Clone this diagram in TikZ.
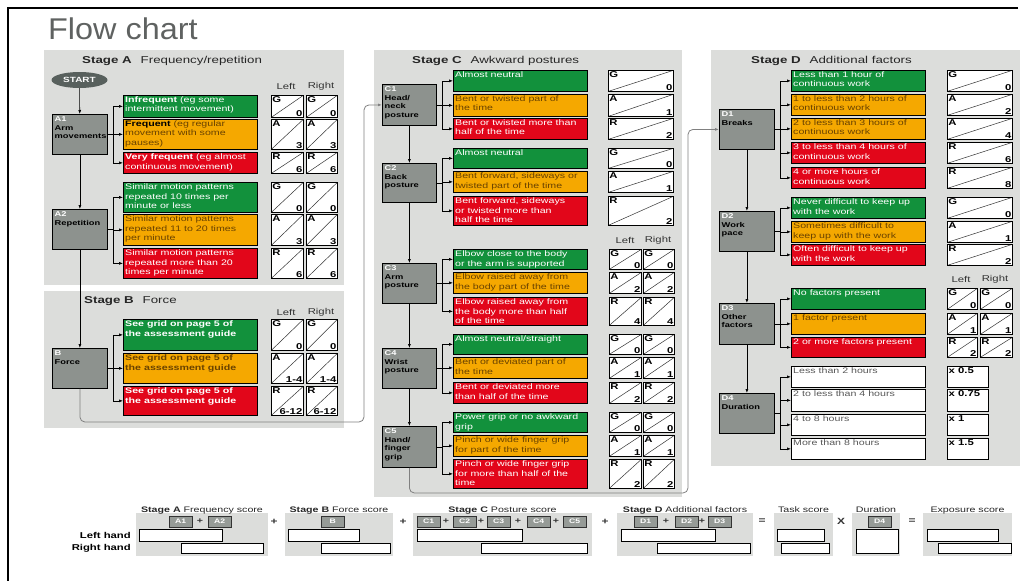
\documentclass[tikz,border=0pt]{standalone}
\usepackage{fontspec}
\setmainfont{Liberation Sans}[FakeStretch=1.33]
\newfontfamily\titlefont{Liberation Sans}[FakeStretch=1.08]
\usetikzlibrary{arrows.meta,shapes.geometric}

\definecolor{panelgrey}{RGB}{220,221,219}
\definecolor{stepgrey}{RGB}{141,146,142}
\definecolor{startgrey}{RGB}{88,96,93}
\definecolor{taggrey}{RGB}{150,155,151}
\definecolor{optgreen}{RGB}{18,145,60}
\definecolor{optamber}{RGB}{245,168,0}
\definecolor{optred}{RGB}{226,6,26}
\definecolor{ambertext}{RGB}{105,66,0}
\definecolor{titlegrey}{RGB}{95,98,97}

\begin{document}
\begin{tikzpicture}[x=1pt, y=-1pt, font=\fontsize{8}{9.5}\selectfont,
  arr/.style={-{Latex[length=4pt,width=3pt]}, line width=0.6pt},
  link/.style={arr, draw=black!50, line width=0.8pt, rounded corners=5pt},
  stepbox/.style={draw=black, line width=0.8pt, fill=stepgrey, anchor=north west, inner sep=0pt,
    minimum width=55, minimum height=40,
    label={[anchor=north west, align=left, inner sep=2.5pt, font=\fontsize{7}{8.5}\selectfont\bfseries]north west:#1}},
  optbox/.style={draw=black, line width=0.7pt, anchor=north west, inner sep=0pt, minimum width=134},
  opttext/.style={anchor=north west, align=left, inner xsep=2pt, inner ysep=1.5pt},
  gopt/.style={optbox, fill=optgreen, label={[opttext, text=white]north west:#1}},
  aopt/.style={optbox, fill=optamber, label={[opttext, text=ambertext]north west:#1}},
  ropt/.style={optbox, fill=optred, label={[opttext, text=white]north west:#1}},
  wopt/.style={optbox, fill=white, label={[opttext, text=black!65]north west:#1}},
  score/.style 2 args={draw=black, line width=0.7pt, fill=white, anchor=north west, inner sep=0pt,
    path picture={\draw[line width=0.5pt, black!80] (path picture bounding box.south west) -- (path picture bounding box.north east);},
    label={[anchor=north west, inner sep=1.2pt, font=\fontsize{8.5}{9}\selectfont\bfseries]north west:#1},
    label={[anchor=south east, inner sep=1.2pt, font=\fontsize{8.5}{9}\selectfont\bfseries]south east:#2}},
  mult/.style={draw=black, line width=0.7pt, fill=white, anchor=north west, inner sep=0pt, minimum width=41,
    label={[anchor=north west, inner sep=1.5pt, font=\fontsize{8.5}{9}\selectfont\bfseries]north west:#1}},
  lr/.style={text=black!80, font=\fontsize{8.5}{9}\selectfont},
  head/.style={anchor=west, inner sep=0pt, text=black!85, font=\fontsize{10}{11}\selectfont},
  tag/.style={draw=black!80, fill=taggrey, text=white, anchor=north west, inner sep=0pt,
    minimum width=23, minimum height=11, font=\fontsize{6.5}{7}\selectfont\bfseries},
  slot/.style={draw=black, line width=0.7pt, fill=white, anchor=north west, inner sep=0pt}
]
\useasboundingbox (0,0) rectangle (1022,581);

% Frame and title
\draw[line width=1.5pt] (1018,8) -- (8,8) -- (8,581);
\node[anchor=base west, inner sep=0pt, text=titlegrey, font=\titlefont\fontsize{30}{30}\selectfont] (title) at (48,39) {Flow chart};

% Panels
\fill[panelgrey] (44,50) rectangle (344,285);
\fill[panelgrey] (44,291) rectangle (344,428);
\fill[panelgrey] (374,50) rectangle (682,497);
\fill[panelgrey] (711,50) rectangle (1020,466);
\node[head] (ha) at (82,61) {\textbf{Stage A}\hspace{9pt}Frequency/repetition};
\node[head] (hb) at (84,301) {\textbf{Stage B}\hspace{9pt}Force};
\node[head] (hc) at (412,61) {\textbf{Stage C}\hspace{9pt}Awkward postures};
\node[head] (hd) at (751,61) {\textbf{Stage D}\hspace{9pt}Additional factors};

% Stage A
\node[ellipse, fill=startgrey, text=white, inner sep=0pt, minimum width=56, minimum height=16,
  font=\fontsize{7.5}{8}\selectfont\bfseries] (start) at (79.5,80) {START};
\node[stepbox={{\color{white}A1}\\Arm\\movements}] (a1) at (52,114) {};
\node[stepbox={{\color{white}A2}\\Repetition}] (a2) at (52,209) {};
\node[gopt={\textbf{Infrequent} (eg some\\intermittent movement)}, minimum height=22] (a1-1) at (123,95) {};
\node[aopt={\textcolor{black}{\textbf{Frequent}} (eg regular\\movement with some\\pauses)}, minimum height=30] (a1-2) at (123,119) {};
\node[ropt={\textbf{Very frequent} (eg almost\\continuous movement)}, minimum height=21] (a1-3) at (123,152) {};
\node[gopt={Similar motion patterns\\repeated 10 times per\\minute or less}, minimum height=30] (a2-1) at (123,182) {};
\node[aopt={Similar motion patterns\\repeated 11 to 20 times\\per minute}, minimum height=31] (a2-2) at (123,214) {};
\node[ropt={Similar motion patterns\\repeated more than 20\\times per minute}, minimum height=30] (a2-3) at (123,248) {};
\node[lr] (al) at (286,86) {Left};
\node[lr] (ar) at (321,86) {Right};
\foreach \y/\h/\g/\v [count=\i] in {95/22/G/0,119/30/A/3,152/21/R/6,182/30/G/0,214/31/A/3,248/30/R/6} {
  \node[score={\g}{\v}, minimum width=32, minimum height=\h] (sal\i) at (271,\y) {};
  \node[score={\g}{\v}, minimum width=31, minimum height=\h] (sar\i) at (306,\y) {};
}

% Stage B
\node[stepbox={{\color{white}B}\\Force}] (b) at (52,348) {};
\node[gopt={\textbf{See grid on page 5 of}\\\textbf{the assessment guide}}, minimum height=31] (b-1) at (123,319) {};
\node[aopt={\textbf{See grid on page 5 of}\\\textbf{the assessment guide}}, minimum height=30] (b-2) at (123,353) {};
\node[ropt={\textbf{See grid on page 5 of}\\\textbf{the assessment guide}}, minimum height=29] (b-3) at (123,386) {};
\node[lr] (bl) at (286,312) {Left};
\node[lr] (br) at (321,312) {Right};
\foreach \y/\h/\g/\v [count=\i] in {319/31/G/0,353/30/A/1-4,386/29/R/6-12} {
  \node[score={\g}{\v}, minimum width=32, minimum height=\h] (sbl\i) at (271,\y) {};
  \node[score={\g}{\v}, minimum width=31, minimum height=\h] (sbr\i) at (306,\y) {};
}

% Stage C
\node[stepbox={{\color{white}C1}\\Head/\\neck\\posture}, minimum width=54, minimum height=41] (c1) at (382,84) {};
\node[stepbox={{\color{white}C2}\\Back\\posture}, minimum width=54, minimum height=39] (c2) at (382,163) {};
\node[stepbox={{\color{white}C3}\\Arm\\posture}, minimum width=54] (c3) at (382,263) {};
\node[stepbox={{\color{white}C4}\\Wrist\\posture}, minimum width=54] (c4) at (382,348) {};
\node[stepbox={{\color{white}C5}\\Hand/\\finger\\grip}, minimum width=54, minimum height=41] (c5) at (382,426) {};
\node[gopt={Almost neutral}, minimum height=21] (c1-1) at (453,70) {};
\node[aopt={Bent or twisted part of\\the time}, minimum height=22] (c1-2) at (453,94) {};
\node[ropt={Bent or twisted more than\\half of the time}, minimum height=21] (c1-3) at (453,118) {};
\node[gopt={Almost neutral}, minimum height=20] (c2-1) at (453,148) {};
\node[aopt={Bent forward, sideways or\\twisted part of the time}, minimum height=21] (c2-2) at (453,171) {};
\node[ropt={Bent forward, sideways\\or twisted more than\\half the time}, minimum height=29] (c2-3) at (453,196) {};
\node[gopt={Elbow close to the body\\or the arm is supported}, minimum height=20] (c3-1) at (453,249) {};
\node[aopt={Elbow raised away from\\the body part of the time}, minimum height=21] (c3-2) at (453,272) {};
\node[ropt={Elbow raised away from\\the body more than half\\of the time}, minimum height=28] (c3-3) at (453,297) {};
\node[gopt={Almost neutral/straight}, minimum height=20] (c4-1) at (453,334) {};
\node[aopt={Bent or deviated part of\\the time}, minimum height=21] (c4-2) at (453,357) {};
\node[ropt={Bent or deviated more\\than half of the time}, minimum height=21] (c4-3) at (453,382) {};
\node[gopt={Power grip or no awkward\\grip}, minimum height=20] (c5-1) at (453,412) {};
\node[aopt={Pinch or wide finger grip\\for part of the time}, minimum height=21] (c5-2) at (453,435) {};
\node[ropt={Pinch or wide finger grip\\for more than half of the\\time}, minimum height=29] (c5-3) at (453,459) {};
\foreach \y/\h/\g/\v [count=\i] in {70/21/G/0,94/22/A/1,118/21/R/2,148/20/G/0,171/21/A/1,196/29/R/2}
  \node[score={\g}{\v}, minimum width=65, minimum height=\h] (sc\i) at (608,\y) {};
\node[lr] (cl) at (625,240) {Left};
\node[lr] (cr) at (658,240) {Right};
\foreach \y/\h/\g/\v [count=\i] in {249/20/G/0,272/21/A/2,297/28/R/4,334/20/G/0,357/21/A/1,382/21/R/2,412/20/G/0,435/21/A/1,459/29/R/2} {
  \node[score={\g}{\v}, minimum width=32, minimum height=\h] (scl\i) at (609,\y) {};
  \node[score={\g}{\v}, minimum width=31, minimum height=\h] (scr\i) at (643,\y) {};
}

% Stage D
\node[stepbox={{\color{white}D1}\\Breaks}] (d1) at (719,109) {};
\node[stepbox={{\color{white}D2}\\Work\\pace}] (d2) at (719,211) {};
\node[stepbox={{\color{white}D3}\\Other\\factors}, minimum height=41] (d3) at (719,303) {};
\node[stepbox={{\color{white}D4}\\Duration}] (d4) at (719,393) {};
\node[gopt={Less than 1 hour of\\continuous work}, minimum height=21] (d1-1) at (791,70) {};
\node[aopt={1 to less than 2 hours of\\continuous work}, minimum height=21] (d1-2) at (791,94) {};
\node[aopt={2 to less than 3 hours of\\continuous work}, minimum height=21] (d1-3) at (791,118) {};
\node[ropt={3 to less than 4 hours of\\continuous work}, minimum height=21] (d1-4) at (791,142) {};
\node[ropt={4 or more hours of\\continuous work}, minimum height=21] (d1-5) at (791,167) {};
\node[gopt={Never difficult to keep up\\with the work}, minimum height=21] (d2-1) at (791,197) {};
\node[aopt={Sometimes difficult to\\keep up with the work}, minimum height=21] (d2-2) at (791,221) {};
\node[ropt={Often difficult to keep up\\with the work}, minimum height=21] (d2-3) at (791,244) {};
\node[gopt={No factors present}, minimum height=21] (d3-1) at (791,288) {};
\node[aopt={1 factor present}, minimum height=21] (d3-2) at (791,313) {};
\node[ropt={2 or more factors present}, minimum height=20] (d3-3) at (791,337) {};
\node[wopt={Less than 2 hours}, minimum height=21] (d4-1) at (791,366) {};
\node[wopt={2 to less than 4 hours}, minimum height=22] (d4-2) at (791,389) {};
\node[wopt={4 to 8 hours}, minimum height=21] (d4-3) at (791,414) {};
\node[wopt={More than 8 hours}, minimum height=21] (d4-4) at (791,438) {};
\foreach \y/\g/\v [count=\i] in {70/G/0,94/A/2,118/A/4,142/R/6,167/R/8,197/G/0,221/A/1,244/R/2}
  \node[score={\g}{\v}, minimum width=65, minimum height=21] (sd\i) at (947,\y) {};
\node[lr] (dl) at (961,279) {Left};
\node[lr] (dr) at (995,279) {Right};
\foreach \y/\h/\g/\v [count=\i] in {288/21/G/0,313/21/A/1,337/20/R/2} {
  \node[score={\g}{\v}, minimum width=30, minimum height=\h] (sdl\i) at (947,\y) {};
  \node[score={\g}{\v}, minimum width=32, minimum height=\h] (sdr\i) at (980,\y) {};
}
\foreach \y/\h/\v [count=\i] in {366/21/0.5,389/22/0.75,414/21/1,438/21/1.5}
  \node[mult={x \v}, minimum height=\h] (sm\i) at (947,\y) {};

% Connectors
\draw[arr] (start) -- (a1);
\draw[arr] (a1) -- (a2);
\draw[arr] (a2) -- (b);
\draw[arr] (c1) -- (c2);
\draw[arr] (c2) -- (c3);
\draw[arr] (c3) -- (c4);
\draw[arr] (c4) -- (c5);
\draw[arr] (d1) -- (d2);
\draw[arr] (d2) -- (d3);
\draw[arr] (d3) -- (d4);
\foreach \s/\n in {a1/3,a2/3,b/3,c1/3,c2/3,c3/3,c4/3,c5/3,d1/5,d2/3,d3/3,d4/4} {
  \draw[line width=0.6pt] (\s.east) -- ++(5,0) coordinate (\s-x);
  \foreach \k in {1,...,\n}
    \draw[arr] (\s-x) |- (\s-\k.west);
}
\coordinate (bc) at (364,422);
\coordinate (cd) at (688,493);
\draw[link] (b.south) |- (bc) |- (c1.west);
\draw[link] (c5.south) |- (cd) |- (d1.west);

% Score sums
\foreach \n/\x/\w/\lx/\lw/\rx/\rw/\t in {
  sa/136/132/139/83/181/82/{\textbf{Stage A} Frequency score},
  sb/285/108/288/71/321/69/{\textbf{Stage B} Force score},
  sc/413/179/417/105/481/106/{\textbf{Stage C} Posture score},
  sd/617/136/621/94/657/93/{\textbf{Stage D} Additional factors},
  ts/774/59/777/47/781/48/{Task score},
  es/923/89/927/71/938/73/{Exposure score}} {
  \fill[panelgrey] (\x,513) rectangle ++(\w,43);
  \node[anchor=base, inner sep=0pt, text=black!85] (\n-h) at (\x+\w/2,512) {\t};
  \node[slot, minimum width=\lw, minimum height=12] (\n-l) at (\lx,529) {};
  \node[slot, minimum width=\rw, minimum height=10] (\n-r) at (\rx,543) {};
}
\fill[panelgrey] (852,513) rectangle (900,556);
\node[anchor=base, inner sep=0pt, text=black!85] (du-h) at (876,512) {Duration};
\node[slot, minimum width=42, minimum height=24] (du-s) at (856,529) {};
\foreach \x/\t in {169/A1,208/A2,321/B,417/C1,453/C2,487/C3,527/C4,563/C5,634/D1,675/D2,708/D3,868/D4}
  \node[tag] (t\t) at (\x,516) {\t};
\foreach \x [count=\i] in {200,446,481,518,556,666,702}
  \node[font=\fontsize{8}{8}\selectfont\bfseries, text=black!80] (plus\i) at (\x,521.5) {+};
\foreach \x/\o [count=\i] in {274/+,403/+,605/+,762/=,841/X,912/=}
  \node[font=\fontsize{9}{9}\selectfont\bfseries, text=black!80] (op\i) at (\x,521.5) {\o};
\node[anchor=east, inner sep=0pt, font=\fontsize{8.5}{9}\selectfont\bfseries] (lh) at (131,535) {Left hand};
\node[anchor=east, inner sep=0pt, font=\fontsize{8.5}{9}\selectfont\bfseries] (rh) at (131,548) {Right hand};
\end{tikzpicture}
\end{document}
